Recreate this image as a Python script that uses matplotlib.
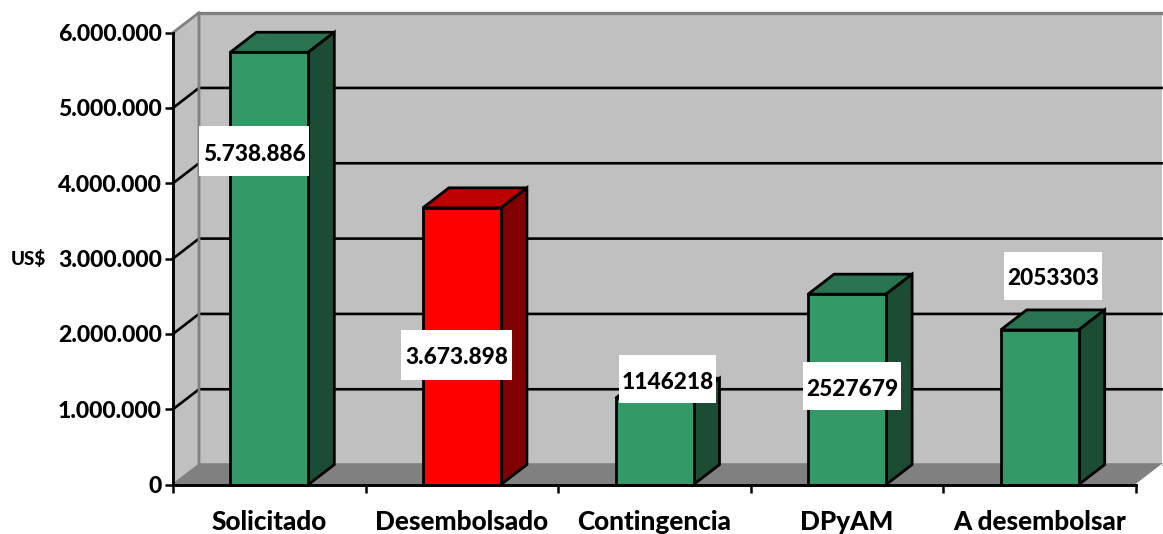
import matplotlib
matplotlib.use('Agg')
import matplotlib.pyplot as plt
from matplotlib.patches import Polygon, Rectangle

categories = ['Solicitado', 'Desembolsado', 'Contingencia', 'DPyAM', 'A desembolsar']
values = [5738886, 3673898, 1146218, 2527679, 2053303]
value_labels = ['5.738.886', '3.673.898', '1146218', '2527679', '2053303']
y_ticks = [0, 1000000, 2000000, 3000000, 4000000, 5000000, 6000000]
y_tick_labels = ['0', '1.000.000', '2.000.000', '3.000.000', '4.000.000', '5.000.000', '6.000.000']

W, H = 1163, 534
LEFT, RIGHT, TOP, BOTTOM = 173, 1136, 32.6, 484.6
Y_MAX = 6000000
FONT = 'Lato'
WEIGHT = 900

# colours per bar: front, top, side
GREEN = ('#339966', '#2A7350', '#1C4D34')
RED = ('#FF0000', '#BF0000', '#800000')
bar_colors = [GREEN, RED, GREEN, GREEN, GREEN]

# label box, pixel offset from the bar's top centre: dx, dy (down), width, height
label_boxes = [(-15, 99, 110, 50), (-5, 147, 111, 50), (13, -19, 97, 48), (5, 92, 98, 48), (13, -54, 98, 48)]


def main() -> None:
  fig = plt.figure(figsize=(W / 100, H / 100), dpi=100)
  ax = fig.add_axes([LEFT / W, 1 - BOTTOM / H, (RIGHT - LEFT) / W, (BOTTOM - TOP) / H])
  ax.set_xlim(0, len(categories))
  ax.set_ylim(0, Y_MAX)
  ax.patch.set_visible(False)

  # one pixel in data units
  px = len(categories) / (RIGHT - LEFT)
  py = Y_MAX / (BOTTOM - TOP)
  dx, dy = 26 * px, 20 * py
  n = len(categories)

  def poly(pts, **kw):
    ax.add_patch(Polygon(pts, closed=True, clip_on=False, **kw))

  # walls and floor
  poly([(dx, dy), (n + dx, dy), (n + dx, Y_MAX + dy), (dx, Y_MAX + dy)], fc='#C0C0C0', ec='none', zorder=1)
  poly([(0, 0), (dx, dy), (dx, Y_MAX + dy), (0, Y_MAX)], fc='#C0C0C0', ec='none', zorder=1)
  poly([(0, 0), (n, 0), (n + dx, dy), (dx, dy)], fc='#808080', ec='none', zorder=1)

  for v in y_ticks[1:-1]:
    ax.plot([0, dx, n + dx], [v, v + dy, v + dy], color='black', lw=1.9, clip_on=False,
            zorder=2, solid_joinstyle='miter')
  ax.plot([0, dx, dx, n + dx], [Y_MAX, Y_MAX + dy, dy, dy], color='#808080', lw=2, clip_on=False, zorder=2)
  ax.plot([dx, n + dx], [Y_MAX + dy, Y_MAX + dy], color='#808080', lw=2.4, clip_on=False, zorder=2)
  ax.plot([0, dx], [0, dy], color='#808080', lw=1.5, clip_on=False, zorder=2)
  ax.plot([n, n + dx], [0, dy], color='white', lw=1, clip_on=False, zorder=2)

  # bars
  width = 78 * px
  centers = [i + 0.5 for i in range(n)]
  ax.bar(centers, values, width=width, color=[c[0] for c in bar_colors], edgecolor='black', linewidth=2,
         zorder=4, clip_on=False)
  for c, v, col in zip(centers, values, bar_colors):
    l, r = c - width / 2, c + width / 2
    poly([(l, v), (r, v), (r + dx, v + dy), (l + dx, v + dy)], fc=col[1], ec='black', lw=2, zorder=3,
         joinstyle='miter')
    poly([(r, 0), (r + dx, dy), (r + dx, v + dy), (r, v)], fc=col[2], ec='black', lw=2, zorder=3,
         joinstyle='miter')

  # value labels on white boxes
  for c, v, text, box in zip(centers, values, value_labels, label_boxes):
    ox, oy, bw, bh = box
    cx, cy = c + ox * px, v - oy * py
    ax.add_patch(Rectangle((cx - bw * px / 2, cy - bh * py / 2), bw * px, bh * py, fc='white', ec='none',
                           zorder=5, clip_on=False))
    ax.text(cx, cy - 3 * py, text, ha='center', va='center', fontsize=16.3, fontweight=WEIGHT,
            family=FONT, color='black', zorder=6)

  for side in ['top', 'right']:
    ax.spines[side].set_visible(False)
  for side in ['left', 'bottom']:
    ax.spines[side].set_linewidth(2.1)
    ax.spines[side].set_zorder(7)

  ax.set_yticks(y_ticks)
  ax.set_yticklabels(y_tick_labels, fontsize=16.6, fontweight=WEIGHT, family=FONT)
  ax.set_xticks(range(n + 1))
  ax.set_xticklabels([])
  ax.tick_params(axis='both', direction='out', length=6, width=1.8, color='black')
  ax.tick_params(axis='y', pad=2)
  ax.set_xticks(centers, minor=True)
  ax.set_xticklabels(categories, minor=True, fontsize=18.8, fontweight=WEIGHT, family=FONT)
  ax.tick_params(axis='x', which='minor', length=0, pad=18)

  fig.text(28 / W, 1 - 259 / H, 'US$', ha='center', va='center', fontsize=13.5, fontweight=WEIGHT, family=FONT)

  fig.savefig('out.png', dpi=100)


if __name__ == '__main__':
  main()
